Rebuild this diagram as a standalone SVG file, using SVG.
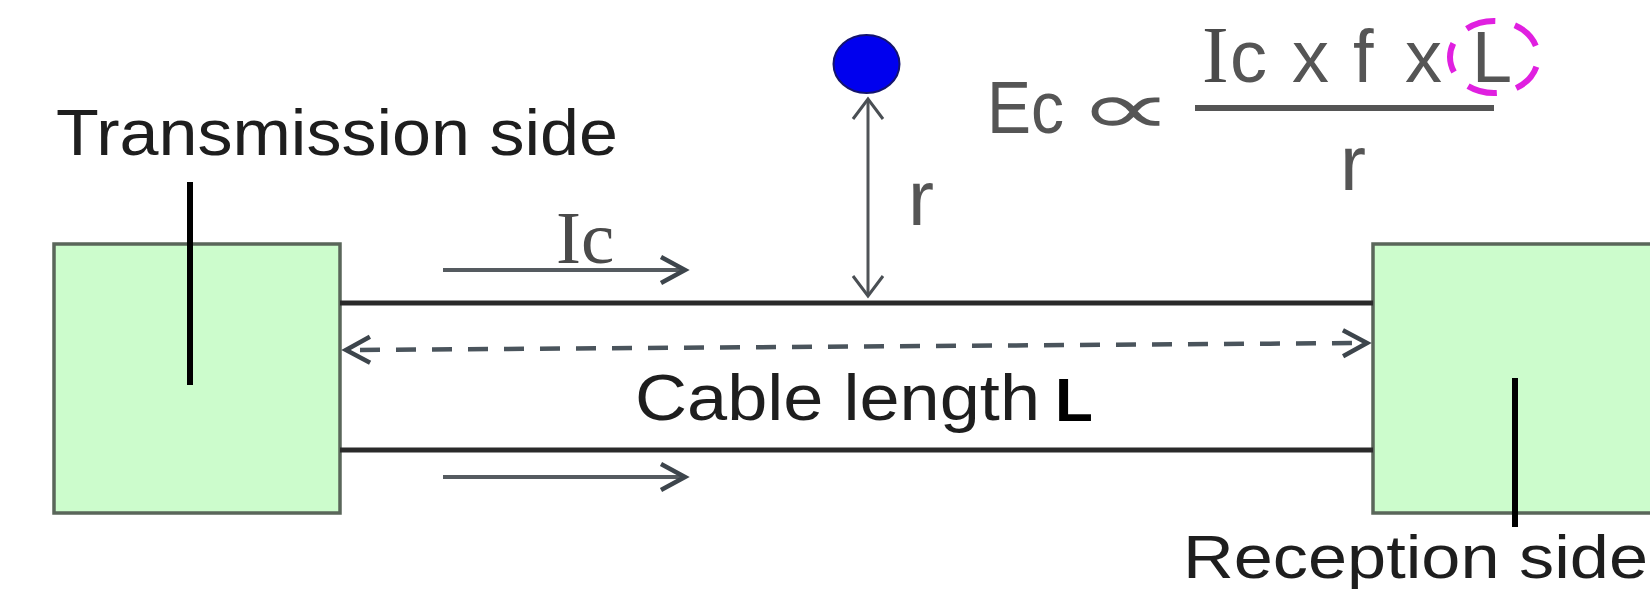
<svg xmlns="http://www.w3.org/2000/svg" width="1650" height="589" viewBox="0 0 1650 589">
  <style>
    .box { fill: #ccfccc; stroke: #5a665a; stroke-width: 3.5; }
    .tick { stroke: #000; stroke-width: 6; }
    .cable { stroke: #2a2a2a; stroke-width: 5; fill: none; }
    .arrow { stroke: #555b60; stroke-width: 4; fill: none; }
    .lbl { font-family: "Liberation Sans", Arial, sans-serif; fill: #1e1e1e; }
    .eq { font-family: "Liberation Sans", Arial, sans-serif; fill: #555; }
    .eqs { font-family: "Liberation Serif", "Times New Roman", serif; fill: #4a4a4a; }
  </style>
  <defs>
    <marker id="chev" markerUnits="userSpaceOnUse" markerWidth="40" markerHeight="40" viewBox="-30 -20 40 40" refX="0" refY="0" orient="auto">
      <path d="M -24 -13 L 0 0 L -24 13" fill="none" stroke="#3d454c" stroke-width="4.5"/>
    </marker>
    <marker id="chevStart" markerUnits="userSpaceOnUse" markerWidth="40" markerHeight="40" viewBox="-10 -20 40 40" refX="0" refY="0" orient="auto">
      <path d="M 24 -13 L 0 0 L 24 13" fill="none" stroke="#3d454c" stroke-width="4.5"/>
    </marker>
    <marker id="chevS" markerUnits="userSpaceOnUse" markerWidth="40" markerHeight="40" viewBox="-30 -20 40 40" refX="0" refY="0" orient="auto">
      <path d="M -20 -15 L 0 0 L -20 15" fill="none" stroke="#4a4f54" stroke-width="3"/>
    </marker>
    <marker id="chevSStart" markerUnits="userSpaceOnUse" markerWidth="40" markerHeight="40" viewBox="-10 -20 40 40" refX="0" refY="0" orient="auto">
      <path d="M 20 -15 L 0 0 L 20 15" fill="none" stroke="#4a4f54" stroke-width="3"/>
    </marker>
  </defs>

  <g id="transmission-side">
    <rect class="box" x="54" y="244" width="286" height="269"/>
    <line class="tick" x1="190" y1="182" x2="190" y2="385"/>
    <text class="lbl" x="56" y="155" font-size="65" textLength="562" lengthAdjust="spacingAndGlyphs">Transmission side</text>
  </g>

  <g id="reception-side">
    <rect class="box" x="1373" y="244" width="300" height="269"/>
    <line class="tick" x1="1515" y1="378" x2="1515" y2="527"/>
    <text class="lbl" x="1183" y="578" font-size="61" textLength="465" lengthAdjust="spacingAndGlyphs">Reception side</text>
  </g>

  <g id="cable">
    <line class="cable" x1="340" y1="303" x2="1373" y2="303"/>
    <line class="cable" x1="340" y1="450" x2="1373" y2="450"/>
    <text class="lbl" x="635" y="420" font-size="65" fill="#222" textLength="405" lengthAdjust="spacingAndGlyphs">Cable length</text>
    <text x="1055" y="421" font-family="Liberation Sans, Arial, sans-serif" font-size="62" font-weight="bold" fill="#000">L</text>
  </g>

  <g id="conductor">
    <ellipse cx="866.5" cy="64" rx="33" ry="29" fill="#0000ee" stroke="#14146e" stroke-width="2"/>
    <text class="eq" x="908" y="225" font-size="78">r</text>
  </g>

  <g id="formula">
    <text class="eq" x="987" y="133" font-size="74" textLength="77" lengthAdjust="spacingAndGlyphs">Ec</text>
    <text x="1077" y="134" font-family="DejaVu Sans, sans-serif" font-size="75" fill="#555" textLength="97" lengthAdjust="spacingAndGlyphs">∝</text>
    <line x1="1195" y1="108" x2="1494" y2="108" stroke="#555" stroke-width="6"/>
    <text font-size="76">
      <tspan class="eqs" x="1202" y="82" font-size="80">I</tspan>
      <tspan class="eq" x="1230" y="82" font-size="74">c</tspan>
      <tspan class="eq" x="1292" y="82" font-size="74">x</tspan>
      <tspan class="eq" x="1353" y="82" font-size="74">f</tspan>
      <tspan class="eq" x="1405" y="82" font-size="74">x</tspan>
      <tspan class="eq" x="1472" y="82" font-size="72">L</tspan>
    </text>
    <ellipse cx="1494" cy="57" rx="44" ry="36" fill="none" stroke="#e020e0" stroke-width="6" stroke-dasharray="30 20" stroke-dashoffset="40"/>
    <text class="eq" x="1340" y="190" font-size="78">r</text>
  </g>

  <g id="connectors">
    <line class="arrow" x1="443" y1="270" x2="685" y2="270" marker-end="url(#chev)"/>
    <text class="eqs" x="556" y="263" font-size="75">Ic</text>
    <line class="arrow" x1="443" y1="477" x2="685" y2="477" marker-end="url(#chev)"/>
    <line x1="346" y1="350" x2="1367" y2="343" stroke="#4a545c" stroke-width="4.5" stroke-dasharray="20 16" stroke-dashoffset="-14" marker-start="url(#chevStart)" marker-end="url(#chev)"/>
    <line x1="868" y1="99" x2="868" y2="296" stroke="#505458" stroke-width="3" marker-start="url(#chevSStart)" marker-end="url(#chevS)"/>
  </g>
</svg>
